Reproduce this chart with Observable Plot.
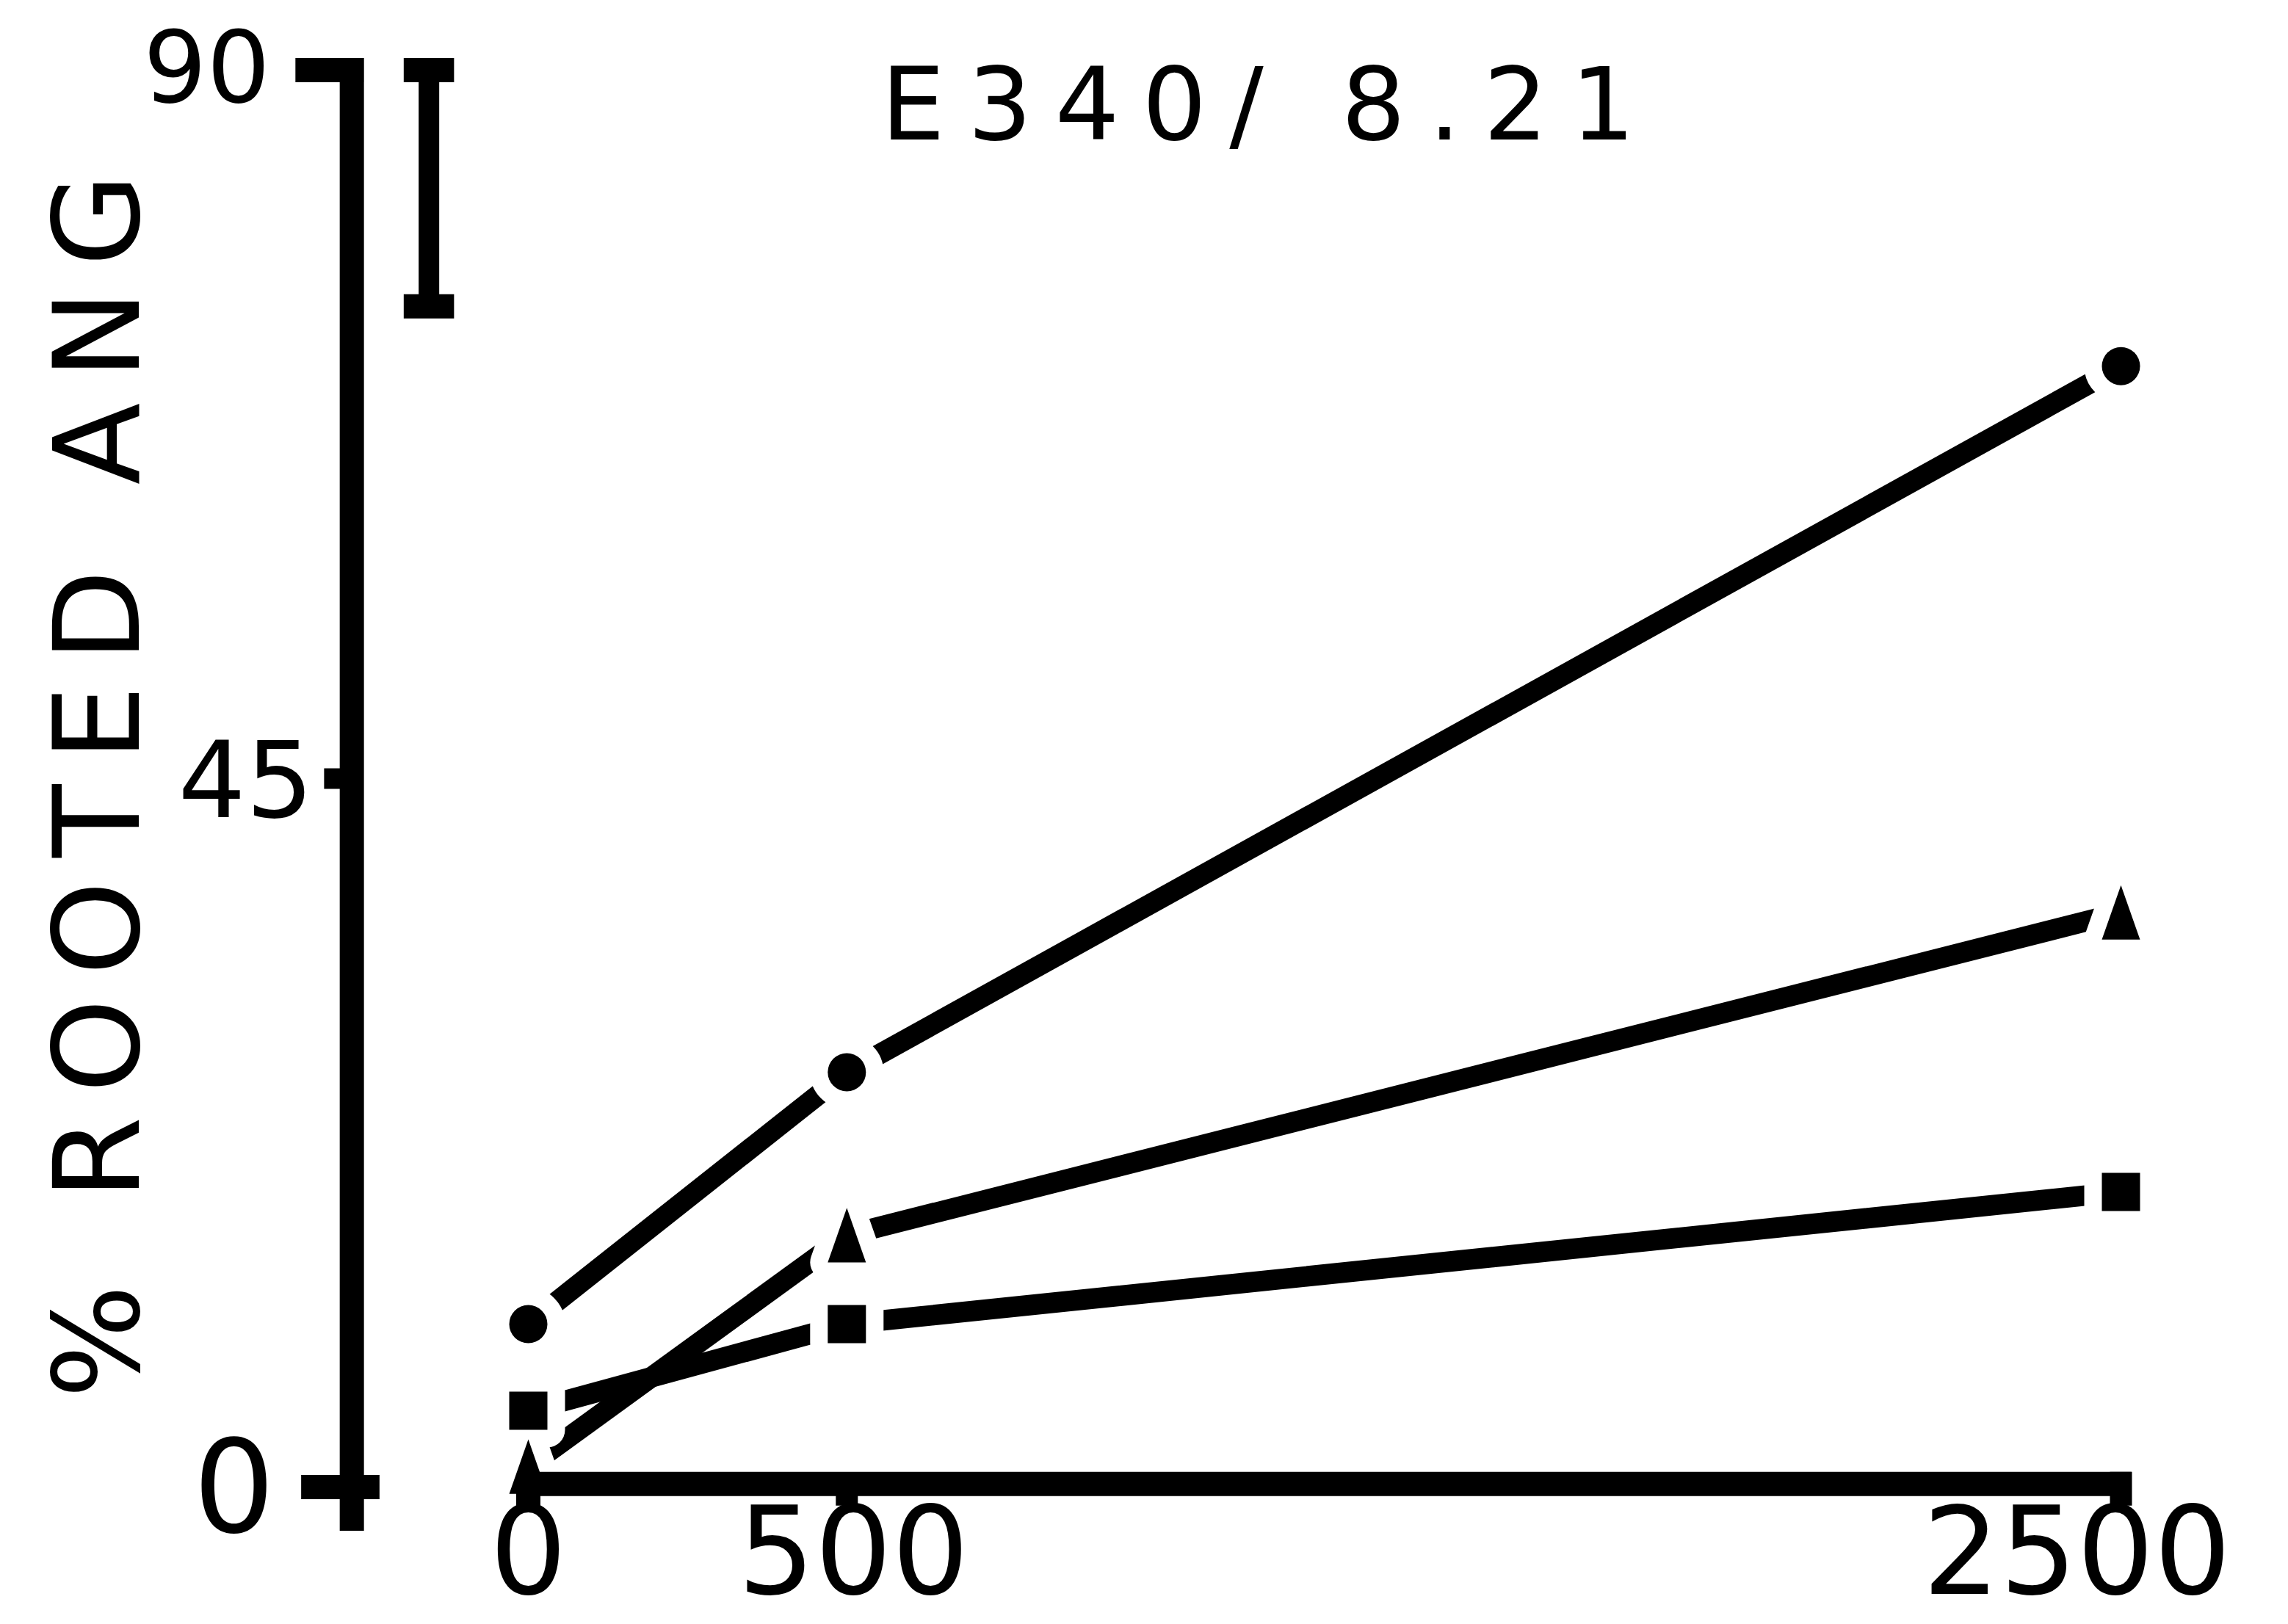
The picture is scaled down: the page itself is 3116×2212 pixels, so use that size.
<!DOCTYPE html>
<html>
<head>
<meta charset="utf-8">
<script src="https://cdn.jsdelivr.net/npm/d3@7"></script>
<script src="https://cdn.jsdelivr.net/npm/@observablehq/plot@0.6"></script>
<style>
  html, body { margin: 0; padding: 0; background: #ffffff; overflow: hidden; }
  #chart svg { display: block; }
</style>
</head>
<body>
<div id="chart"></div>
<script>
// ---- data ----
const doses = [0, 500, 2500];
const circleSeries = [10.35, 26.35, 71.2];
const triangleSeries = [1.3, 16.0, 36.5];
const squareSeries = [4.85, 10.35, 18.75];
const yTicks = [0, 45, 90];
const yTickLabels = ["0", "45", "90"];
const xTicks = [0, 500, 2500];
const xTickLabels = ["0", "500", "2500"];
const errorBar = [75, 90];
const titleText = "E340/ 8.21";
const yTitle = "% ROOTED ANG";

// ---- build table ----
const rows = doses.flatMap((d, i) => [
  {dose: d, pct: circleSeries[i], series: "circle"},
  {dose: d, pct: triangleSeries[i], series: "triangle"},
  {dose: d, pct: squareSeries[i], series: "square"}
]);
const of = s => rows.filter(r => r.series === s);

// custom symbols
const symSquare = {draw(ctx, size) {
  const r = Math.sqrt(size / Math.PI);
  ctx.moveTo(-r, -r); ctx.lineTo(r, -r); ctx.lineTo(r, r); ctx.lineTo(-r, r); ctx.closePath();
}};
const symTriangle = {draw(ctx, size) {
  const r = Math.sqrt(size / Math.PI);
  const h = r * 2.85;
  ctx.moveTo(0, -h / 2); ctx.lineTo(r, h / 2); ctx.lineTo(-r, h / 2); ctx.closePath();
}};
const symbols = {circle: "circle", triangle: symTriangle, square: symSquare};

const font = "DejaVu Sans";
const ink = "#000";
const lineW = 28;
const axisW = 33;

// halos (white) to make gaps in the lines around markers
const halos = ["circle", "triangle", "square"].map(s =>
  Plot.dot(of(s), {x: "dose", y: "pct", symbol: symbols[s], r: 26,
    fill: "white", stroke: "white", strokeWidth: 48, strokeLinejoin: "round"}));
const markers = ["circle", "triangle", "square"].map(s =>
  Plot.dot(of(s), {x: "dose", y: "pct", symbol: symbols[s], r: 26, fill: ink, stroke: "none"}));

// x tick label horizontal nudges (px)
const xLabelDx = [0, 9, -60];
const xLabelMarks = xTicks.map((t, i) =>
  Plot.text([t], {x: d => d, y: -4.3, text: () => xTickLabels[i], dx: xLabelDx[i],
    fontSize: 165, fontFamily: font, fill: ink, textAnchor: "middle"}));

const yAxisX = -277;

const chart = Plot.plot({
  width: 3116,
  height: 2212,
  margin: 0,
  x: {domain: [0, 2500], range: [719, 2888], axis: null},
  y: {domain: [0, 90], range: [2025, 95], axis: null},
  style: {background: "white", overflow: "visible"},
  marks: [
    // series lines
    Plot.line(rows, {x: "dose", y: "pct", z: "series", stroke: ink, strokeWidth: lineW,
      strokeLinecap: "butt", strokeLinejoin: "round"}),
    ...halos,
    // y axis
    Plot.ruleX([yAxisX], {y1: -2.8, y2: 90.75, stroke: ink, strokeWidth: axisW}),
    Plot.ruleY([yTicks[2]], {x1: -365, x2: -258, stroke: ink, strokeWidth: axisW}),
    Plot.ruleY([yTicks[1]], {x1: -320, x2: yAxisX, stroke: ink, strokeWidth: 28}),
    Plot.ruleY([yTicks[0]], {x1: -356, x2: -233, stroke: ink, strokeWidth: axisW}),
    // x axis
    Plot.ruleY([0.2], {x1: xTicks[0], x2: xTicks[2] + 17, stroke: ink, strokeWidth: axisW}),
    Plot.ruleX([xTicks[0]], {y1: 0.2, y2: -1.3, stroke: ink, strokeWidth: axisW}),
    Plot.ruleX([xTicks[1]], {y1: 0.2, y2: -1.2, stroke: ink, strokeWidth: 30}),
    Plot.ruleX([xTicks[2]], {y1: 0.95, y2: -1.2, stroke: ink, strokeWidth: 30}),
    ...markers,
    // error bar
    Plot.ruleX([-156], {y1: errorBar[0], y2: errorBar[1], stroke: ink, strokeWidth: 28}),
    Plot.ruleY(errorBar, {x1: -195, x2: -116, stroke: ink, strokeWidth: axisW}),
    // y tick labels
    Plot.text([yTicks[2]], {x: -405, y: d => d, text: () => yTickLabels[2], fontSize: 136,
      fontFamily: font, fill: ink, textAnchor: "end"}),
    Plot.text([yTicks[1]], {x: -337, y: d => d, text: () => yTickLabels[1], fontSize: 145,
      fontFamily: font, fill: ink, textAnchor: "end", dy: 6}),
    Plot.text([yTicks[0]], {x: -462, y: d => d, text: () => yTickLabels[0], fontSize: 175,
      fontFamily: font, fill: ink, textAnchor: "middle", dy: 5}),
    ...xLabelMarks,
    // titles
    Plot.text([titleText], {x: 1146, y: 87.67, text: d => d, fontSize: 138, fontFamily: font,
      fill: ink, textAnchor: "middle"}),
    Plot.text([yTitle], {x: -672, y: 44.53, text: d => d, rotate: -90, fontSize: 163,
      fontFamily: font, fill: ink, textAnchor: "middle"})
  ]
});

const svgSel = d3.select(chart);
svgSel.selectAll("text").filter(function() { return this.textContent === titleText; })
  .attr("letter-spacing", 31).attr("dx", 15);
svgSel.selectAll("text").filter(function() { return this.textContent === yTitle; })
  .attr("letter-spacing", 32).attr("dx", 16);

document.getElementById("chart").appendChild(chart);
</script>
</body>
</html>
